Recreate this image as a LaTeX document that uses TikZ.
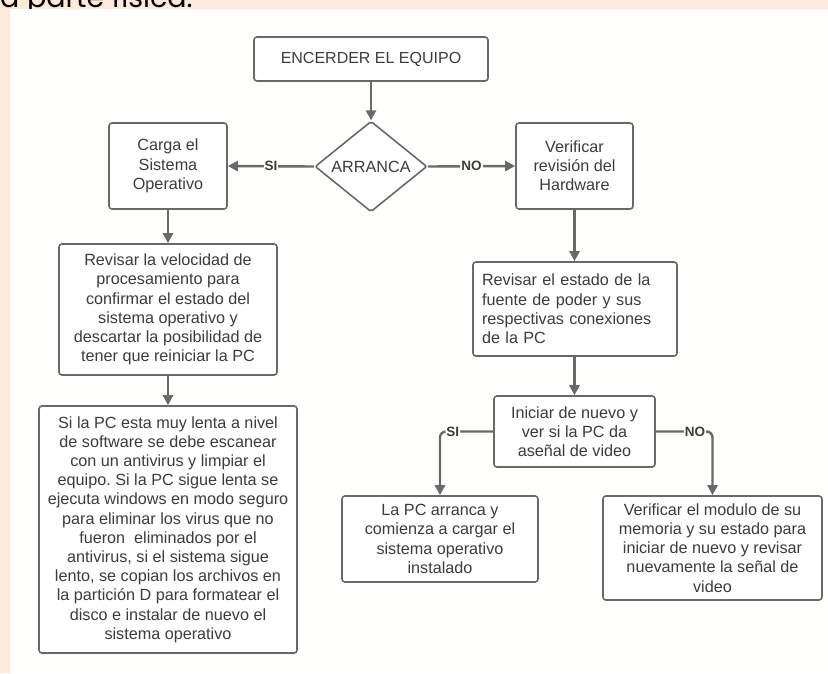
\documentclass[tikz,border=0pt]{standalone}
\usepackage{fontspec}
\setmainfont{Liberation Sans}
\newfontfamily\headfont{Poppins}
\usetikzlibrary{arrows.meta,shapes.geometric}
\definecolor{peach}{RGB}{253,232,217}
\definecolor{paper}{RGB}{254,254,252}
\definecolor{linegray}{RGB}{105,105,105}
\definecolor{txtgray}{RGB}{60,60,60}
\frenchspacing
\begin{document}
\begin{tikzpicture}[x=1pt,y=-1pt]
\tikzset{
  box/.style={draw=linegray, line width=1.6pt, rounded corners=3pt, fill=white,
    text=txtgray, align=center, font=\fontsize{16.2}{19.2}\selectfont, inner sep=0pt},
  conn/.style={draw=linegray, line width=2.4pt, -{Triangle[length=10pt,width=10pt]}},
  lab/.style={font=\bfseries\fontsize{13.5}{14}\selectfont, text=txtgray, fill=paper, inner sep=1pt}
}
\useasboundingbox (0,0) rectangle (828,673);
\fill[peach] (0,0) rectangle (828,673);
\begin{scope}
  \clip (0,0) rectangle (828,9);
  \node[anchor=base west, inner sep=0pt, font=\headfont\fontsize{28.5}{28.5}\selectfont] (head) at (0,7) {a parte física.};
\end{scope}
\fill[paper] (10,9) rectangle (828,673);

\node[box, minimum width=234pt, minimum height=44pt, font=\fontsize{16}{19}\selectfont] (enc) at (371,59) {ENCERDER EL EQUIPO};
\node[box, shape=diamond, rounded corners=2pt, minimum width=112pt, minimum height=83pt] (dia) at (371,166.5) {ARRANCA};
\node[box, minimum width=118pt, minimum height=86pt] (carga) at (168,166) {Carga el\\Sistema\\Operativo};
\node[box, minimum width=117pt, minimum height=86pt] (ver) at (574.5,166) {Verificar\\revisión del\\Hardware};
\node[box, minimum width=218pt, minimum height=131pt] (rev) at (168,309.5) {Revisar la velocidad de\\procesamiento para\\confirmar el estado del\\sistema operativo y\\descartar la posibilidad de\\tener que reiniciar la PC};
\node[box, minimum width=258pt, minimum height=247pt] (big) at (168,529.5) {Si la PC esta muy lenta a nivel\\de software se debe escanear\\con un antivirus y limpiar el\\equipo. Si la PC sigue lenta se\\ejecuta windows en modo seguro\\para eliminar los virus que no\\fueron\ \ eliminados por el\\antivirus, si el sistema sigue\\lento, se copian los archivos en\\la partición D para formatear el\\disco e instalar de nuevo el\\sistema operativo};
\node[box, align=left, text width=186pt, inner xsep=9pt, minimum height=94pt] (fuente) at (575,309) {Revisar el estado de la\\fuente de poder y sus\\respectivas conexiones\\de la PC};
\node[box, minimum width=161pt, minimum height=71pt] (ini) at (574.5,431.5) {Iniciar de nuevo y\\ver si la PC da\\aseñal de video};
\node[box, minimum width=196pt, minimum height=86pt] (lapc) at (440,539) {La PC arranca y\\comienza a cargar el\\sistema operativo\\instalado};
\node[box, minimum width=219pt, minimum height=104pt] (mod) at (712.5,548) {Verificar el modulo de su\\memoria y su estado para\\iniciar de nuevo y revisar\\nuevamente la señal de\\video};

\draw[conn] (enc) -- (dia);
\draw[conn] (dia.west) -- node[lab]{SI} (carga.east);
\draw[conn] (dia.east) -- node[lab]{NO} (ver.west);
\draw[conn] (carga) -- (rev);
\draw[conn] (rev) -- (big);
\draw[conn] (ver) -- (ver |- fuente.north);
\draw[conn] (fuente.south -| ini) -- (ini);
\draw[conn, rounded corners=6pt] (ini.west) -| node[lab, pos=0.38]{SI} (lapc.north);
\draw[conn, rounded corners=6pt] (ini.east) -| node[lab, pos=0.345]{NO} (mod.north);
\end{tikzpicture}
\end{document}
